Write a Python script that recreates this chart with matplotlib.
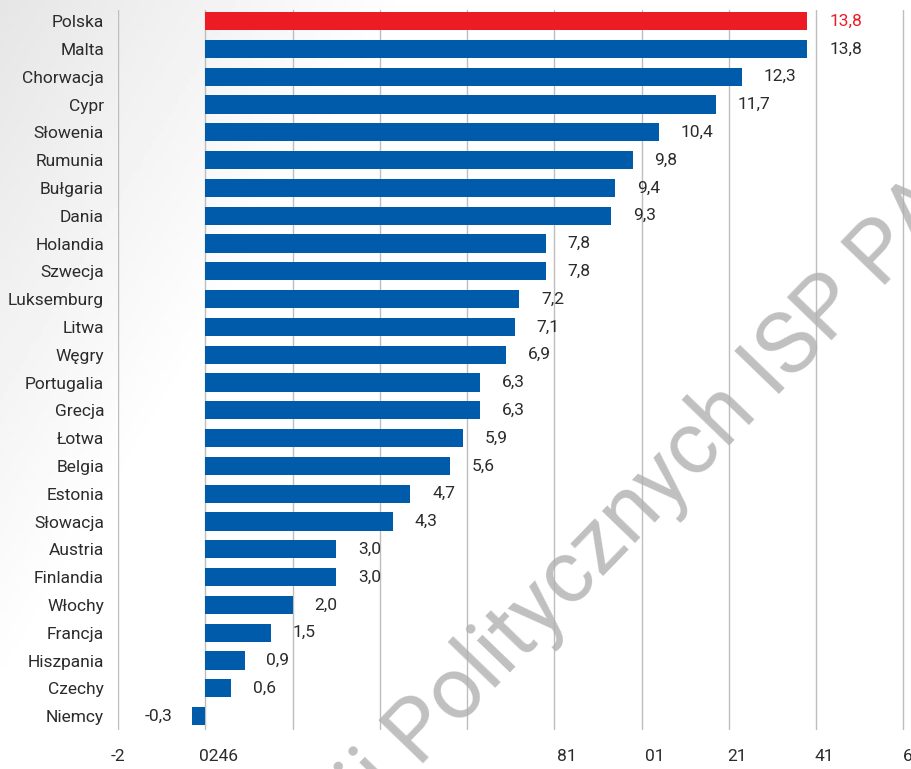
import numpy as np
import matplotlib.pyplot as plt

countries = ['Polska', 'Malta', 'Chorwacja', 'Cypr', 'Słowenia', 'Rumunia', 'Bułgaria',
             'Dania', 'Holandia', 'Szwecja', 'Luksemburg', 'Litwa', 'Węgry', 'Portugalia',
             'Grecja', 'Łotwa', 'Belgia', 'Estonia', 'Słowacja', 'Austria', 'Finlandia',
             'Włochy', 'Francja', 'Hiszpania', 'Czechy', 'Niemcy']
values = [13.8, 13.8, 12.3, 11.7, 10.4, 9.8, 9.4, 9.3, 7.8, 7.8, 7.2, 7.1, 6.9, 6.3,
          6.3, 5.9, 5.6, 4.7, 4.3, 3.0, 3.0, 2.0, 1.5, 0.9, 0.6, -0.3]
grid_x = [-2, 0, 2, 4, 6, 8, 10, 12, 14, 16]
# x tick labels as they appear (garbled) in the source
tick_pos = [-2, 0.3, 8.28, 10.3, 12.2, 14.2, 16.1]
tick_txt = ['-2', '0246', '81', '01', '21', '41', '6']

plt.rcParams['font.family'] = ['Roboto', 'DejaVu Sans']
txt_col = '#2b2b2b'
blue = '#005baa'
red = '#ed1c24'
fs = 12.5

fig = plt.figure(figsize=(9.12, 7.69), dpi=100)

# soft gray gradient in the background, darker top-left
bg = fig.add_axes([0, 0, 1, 1], zorder=-10)
yy, xx = np.mgrid[0:1:200j, 0:1:240j]
d = np.clip(1 - (xx * 1.1 + yy * 0.55) / 0.5, 0, 1)
bg.imshow(1 - 0.1 * d, cmap='gray', vmin=0, vmax=1, aspect='auto', extent=[0, 1, 0, 1])
bg.axis('off')

ax = fig.add_axes([118 / 912, 39 / 769, (912 - 118) / 912, 720 / 769])
ax.patch.set_alpha(0)
y = np.arange(len(countries))
colors = [red] + [blue] * (len(countries) - 1)
ax.barh(y, values, height=0.65, color=colors, zorder=3)

for gx in grid_x:
    ax.axvline(gx, color='#bdbdbd', lw=1, zorder=1)

for i, v in enumerate(values):
    lab = f'{v:.1f}'.replace('.', ',')
    c = red if i == 0 else txt_col
    if v < 0:
        ax.text(v - 0.45, i, lab, ha='right', va='center', fontsize=fs, color=c)
    else:
        ax.text(v + 0.5, i, lab, ha='left', va='center', fontsize=fs, color=c)

ax.set_xlim(-2, 16.2)
ax.set_ylim(25.5, -0.4)
ax.set_yticks(y)
ax.set_yticklabels(countries, fontsize=fs, color=txt_col)
ax.tick_params(axis='y', length=0, pad=10)
ax.set_xticks(tick_pos)
ax.set_xticklabels(tick_txt, fontsize=fs, color=txt_col)
ax.tick_params(axis='x', length=0, pad=14)
for s in ax.spines.values():
    s.set_visible(False)

# watermark, split at the "P" so its anchor can be placed
wm = dict(fontsize=63, color='#b0b0b0', alpha=0.8, rotation=46,
          rotation_mode='anchor', va='baseline', zorder=10)
anchor = (418 / 912, 1 - 768 / 769)
fig.text(*anchor, 'Politycznych ISP PAN', ha='left', **wm)
fig.text(*anchor, 'Instytut Studii ', ha='right', **wm)

plt.savefig('out.png', dpi=100)
plt.close()
